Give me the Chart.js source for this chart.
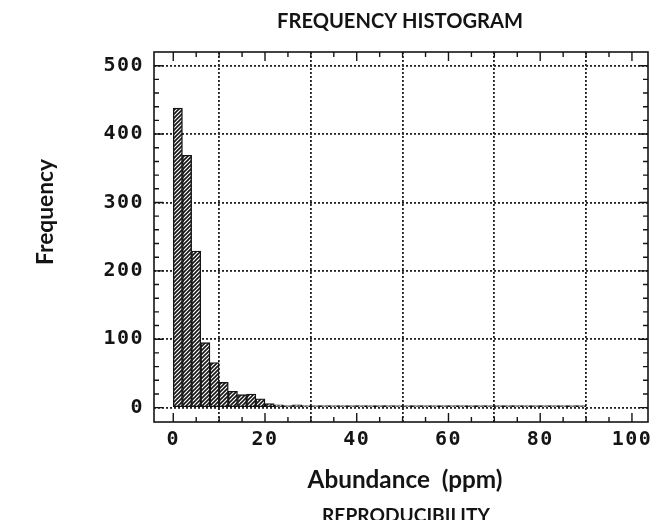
<!DOCTYPE html>
<html>
<head>
<meta charset="utf-8">
<script src="https://cdn.jsdelivr.net/npm/chart.js@4/dist/chart.umd.min.js"></script>
<style>
  html, body { margin: 0; padding: 0; background: #fff; }
  #wrap { width: 666px; height: 520px; }
</style>
</head>
<body>
<div id="wrap"><canvas id="histo" width="666" height="520"></canvas></div>
<script>
'use strict';

// ── Data (bins are 2 ppm wide, centres listed) ─────────────────────────────
const binCenters = [
   1,  3,  5,  7,  9, 11, 13, 15, 17, 19,
  21, 23, 25, 27, 29, 31, 33, 35, 37, 39,
  41, 43, 45, 47, 49, 51, 53, 55, 57, 59,
  61, 63, 65, 67, 69, 71, 73, 75, 77, 79,
  81, 83, 85, 87, 89
];
const binCounts = [
  438, 369, 229, 95, 66, 37, 24, 19, 20, 13,
    6,   4,   2,  4,  1,  1,  2,  2,  2,  1,
    1,   1,   1,  1,  1,  1,  1,  1,  1,  1,
    1,   1,   1,  1,  1,  1,  1,  1,  1,  1,
    1,   1,   1,  1,  1
];
const xTicks = [0, 20, 40, 60, 80, 100];
const yTicks = [0, 100, 200, 300, 400, 500];

const TITLE   = 'FREQUENCY HISTOGRAM';
const X_TITLE = 'Abundance  (ppm)';
const Y_TITLE = 'Frequency';
const FOOTER  = 'REPRODUCIBILITY';

// ── Helpers ────────────────────────────────────────────────────────────────
const INK = '#141414';
const TICK_FONT = { family: 'DejaVu Sans Mono', size: 20, weight: 'bold' };

function hatchPattern() {
  const c = document.createElement('canvas');
  c.width = c.height = 4;
  const p = c.getContext('2d');
  p.fillStyle = '#fff';
  p.fillRect(0, 0, 4, 4);
  p.strokeStyle = INK;
  p.lineWidth = 1.6;
  p.beginPath();
  p.moveTo(0, 4); p.lineTo(4, 0);
  p.moveTo(-1, 1); p.lineTo(1, -1);
  p.moveTo(3, 5); p.lineTo(5, 3);
  p.stroke();
  return document.getElementById('histo').getContext('2d').createPattern(c, 'repeat');
}

// text squeezed/stretched to the width it has in the scan
function fitText(ctx, text, weight, family, width, x, y, align) {
  ctx.font = `${weight} 20px "${family}"`;
  const w = ctx.measureText(text).width;
  const size = 20 * width / w;
  ctx.font = `${weight} ${size.toFixed(2)}px "${family}"`;
  ctx.textAlign = align || 'center';
  ctx.textBaseline = 'alphabetic';
  ctx.fillText(text, x, y);
}

// ── Plugins ────────────────────────────────────────────────────────────────
const spacing = {
  id: 'spacing',
  beforeDraw(chart) { chart.ctx.letterSpacing = '1.5px'; }
};

const frameAndText = {
  id: 'frameAndText',
  afterDraw(chart) {
    const ctx = chart.ctx;
    const a = chart.chartArea;
    const xs = chart.scales.x, ys = chart.scales.y;
    ctx.save();
    ctx.letterSpacing = '0px';
    ctx.strokeStyle = INK;
    ctx.lineWidth = 1.6;
    ctx.strokeRect(a.left, a.top, a.right - a.left, a.bottom - a.top);

    // inward ticks on all four sides
    ctx.lineWidth = 1.4;
    ctx.beginPath();
    for (let v = 0; v <= 100; v += 5) {
      const px = xs.getPixelForValue(v);
      const len = v % 20 === 0 ? 9 : 5;
      ctx.moveTo(px, a.bottom); ctx.lineTo(px, a.bottom - len);
      ctx.moveTo(px, a.top);    ctx.lineTo(px, a.top + len);
    }
    for (let v = 0; v <= 500; v += 20) {
      const py = ys.getPixelForValue(v);
      const len = v % 100 === 0 ? 9 : 5;
      ctx.moveTo(a.left, py);  ctx.lineTo(a.left + len, py);
      ctx.moveTo(a.right, py); ctx.lineTo(a.right - len, py);
    }
    ctx.stroke();

    ctx.fillStyle = INK;
    fitText(ctx, TITLE, 'bold', 'Lato', 246, 400, 28);
    fitText(ctx, X_TITLE, 'bold', 'Lato', 195, 405, 488);
    fitText(ctx, FOOTER, 'bold', 'Lato', 168, 406, 522);

    ctx.translate(53, 212);
    ctx.rotate(-Math.PI / 2);
    fitText(ctx, Y_TITLE, 'bold', 'Lato', 106, 0, 0);
    ctx.restore();
  }
};

// ── Chart ──────────────────────────────────────────────────────────────────
function initChart() {
  const ctx = document.getElementById('histo').getContext('2d');
  return new Chart(ctx, {
    type: 'bar',
    data: {
      datasets: [{
        data: binCenters.map((c, i) => ({ x: c, y: binCounts[i] })),
        backgroundColor: hatchPattern(),
        borderColor: INK,
        borderWidth: 1.4,
        borderSkipped: false,
        barPercentage: 1,
        categoryPercentage: 1,
        minBarLength: 2
      }]
    },
    options: {
      responsive: false,
      animation: false,
      layout: { padding: { top: 52, right: 18, left: 0, bottom: 0 } },
      plugins: { legend: { display: false }, tooltip: { enabled: false } },
      scales: {
        x: {
          type: 'linear', min: -4.2, max: 103.5, offset: false,
          afterBuildTicks: s => { s.ticks = xTicks.map(v => ({ value: v })); },
          afterFit: s => { s.height = 98; },
          ticks: { color: INK, font: TICK_FONT, padding: 6, maxRotation: 0, autoSkip: false },
          grid: { color: '#222', lineWidth: 1.8, drawTicks: false },
          border: { display: false, dash: [2, 2] }
        },
        y: {
          type: 'linear', min: -21, max: 520,
          afterBuildTicks: s => { s.ticks = yTicks.map(v => ({ value: v })); },
          afterFit: s => { s.width = 154; },
          ticks: { color: INK, font: TICK_FONT, padding: 10, autoSkip: false },
          grid: { color: '#222', lineWidth: 1.8, drawTicks: false },
          border: { display: false, dash: [2, 2] }
        }
      }
    },
    plugins: [spacing, frameAndText]
  });
}

initChart();
</script>
</body>
</html>
